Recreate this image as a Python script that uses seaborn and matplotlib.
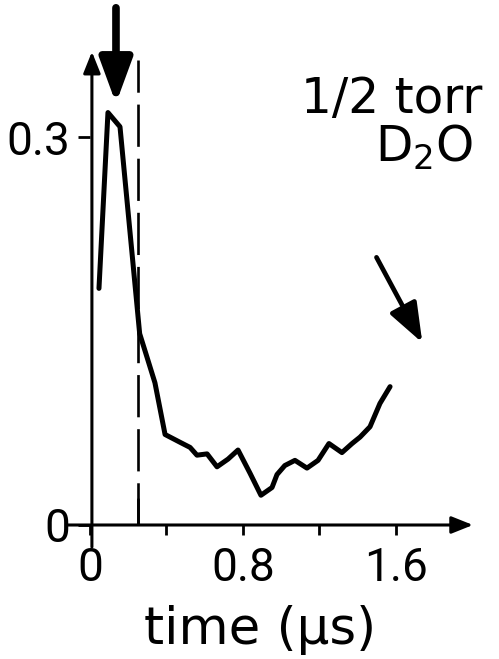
import matplotlib
matplotlib.use("Agg")
import matplotlib.pyplot as plt
import seaborn as sns
import pandas as pd

# ---- data ----
time_us = [0.047, 0.094, 0.157, 0.26, 0.298, 0.34, 0.393, 0.471, 0.524, 0.56,
           0.613, 0.665, 0.723, 0.775, 0.838, 0.895, 0.953, 0.979, 1.02, 1.073,
           1.136, 1.194, 1.251, 1.319, 1.372, 1.414, 1.466, 1.518, 1.571]
signal = [0.183, 0.319, 0.308, 0.148, 0.130, 0.110, 0.070, 0.064, 0.060, 0.054,
          0.055, 0.045, 0.051, 0.058, 0.040, 0.023, 0.029, 0.039, 0.046, 0.050,
          0.044, 0.050, 0.063, 0.056, 0.063, 0.068, 0.076, 0.094, 0.107]
x_ticks = [0, 0.4, 0.8, 1.2, 1.6]
x_ticklabels = ["0", "", "0.8", "", "1.6"]
y_ticks = [0, 0.3]
y_ticklabels = ["0", "0.3"]
dashed_time = 0.25
label_pressure = "1/2 torr"
label_gas = "D$_2$O"
x_label = "time (\u00b5s)"

df = pd.DataFrame({"time": time_us, "signal": signal})

sns.set_style("white")
plt.rcParams["font.family"] = ["DejaVu Sans"]
plt.rcParams["mathtext.fontset"] = "dejavusans"
for k in ["text.color", "axes.labelcolor", "xtick.color", "ytick.color"]:
    plt.rcParams[k] = "black"
digits_font = ["Roboto", "DejaVu Sans"]

W, H = 499, 659
fig = plt.figure(figsize=(W / 100, H / 100), dpi=100)
x0, y0 = 90, 525          # pixel of origin
xs, ys = 191.0, 1293.0    # px per unit
left_px, right_px, top_px = 90, 485, 40
ax = fig.add_axes([left_px / W, (H - y0) / H, (right_px - left_px) / W, (y0 - top_px) / H])
ax.set_xlim(0, (right_px - x0) / xs)
ax.set_ylim(0, (y0 - top_px) / ys)

sns.lineplot(data=df, x="time", y="signal", ax=ax, color="black", lw=3.6,
             solid_joinstyle="round", solid_capstyle="round")

# dashed marker line
ax.plot([dashed_time, dashed_time], [0, 0.36], color="black", lw=1.9,
        dashes=(16, 4.5), clip_on=False)

for s in ax.spines.values():
    s.set_visible(False)

# axis arrows
arrow_kw = dict(arrowstyle="-|>,head_length=0.65,head_width=0.26", color="black", lw=2.2,
                shrinkA=0, shrinkB=0, mutation_scale=20)
ax.annotate("", xy=(2.005, 0), xytext=(-0.12, 0), xycoords="data",
            arrowprops=arrow_kw, annotation_clip=False)
ax.annotate("", xy=(0.01, 0.366), xytext=(0.01, -0.017), xycoords="data",
            arrowprops=arrow_kw, annotation_clip=False)

# pointer arrows
ax.annotate("", xy=(0.136, 0.326), xytext=(0.136, 0.40),
            arrowprops=dict(arrowstyle="-|>,head_length=0.9,head_width=0.33",
                            color="black", lw=5.5, shrinkA=0, shrinkB=0,
                            mutation_scale=30),
            annotation_clip=False)
ax.annotate("", xy=(1.74, 0.141), xytext=(1.50, 0.207),
            arrowprops=dict(arrowstyle="-|>,head_length=0.8,head_width=0.3",
                            color="black", lw=3.4, shrinkA=0, shrinkB=0,
                            mutation_scale=30),
            annotation_clip=False)

ax.set_xticks(x_ticks)
ax.set_xticklabels(x_ticklabels, family=digits_font)
ax.set_yticks(y_ticks)
ax.set_yticklabels(y_ticklabels, family=digits_font)
ax.tick_params(axis="x", direction="out", length=7, width=2, pad=8, labelsize=33,
               bottom=True)
ax.tick_params(axis="y", direction="out", length=8.5, width=2, pad=6, labelsize=33,
               left=True)
ax.set_xlabel(x_label, fontsize=37, labelpad=0)
ax.xaxis.set_label_coords((260 - left_px) / (right_px - left_px), -0.165)
ax.set_ylabel("")

# small tick above axis at dashed line
ax.plot([dashed_time, dashed_time], [0, 0.02], color="black", lw=2)

ax.text(2.052, 0.319, label_pressure, fontsize=35, ha="right", va="baseline")
ax.text(2.005, 0.281, label_gas, fontsize=35, ha="right", va="baseline")

fig.savefig("out.png", dpi=100, facecolor="white")
